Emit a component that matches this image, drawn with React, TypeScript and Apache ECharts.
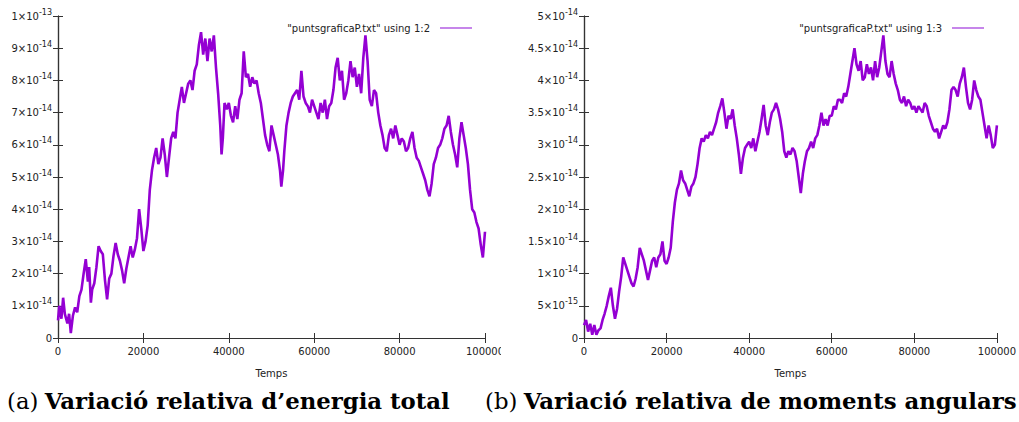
import React, { useEffect, useRef } from "react";
import * as echarts from "echarts";

// Panel (a): relative variation of total energy (values in units of 1e-14)
const TIME_A = [
  0, 300, 800, 1200, 1600, 2200, 2600, 3000, 3500, 4000, 4500, 5000, 5500, 6000, 6500, 7000, 7300, 7700,
  8000, 8500, 9000, 9500, 10000, 10500, 11000, 11500, 12000, 12500, 13000, 13500, 14000, 14500, 15000,
  15500, 16000, 16500, 17000, 17500, 18000, 18500, 19000, 19500, 20000, 20500, 21000, 21500, 22000,
  22500, 23000, 23500, 24000, 24500, 25000, 25500, 26000, 26500, 27000, 27500, 28000, 28500, 29000,
  29500, 30000, 30500, 31000, 31500, 32000, 32500, 33000, 33500, 34000, 34500, 35000, 35500, 36000,
  36500, 37000, 37500, 38000, 38300, 38600, 39000, 39500, 40000, 40500, 41000, 41500, 42000, 42500,
  43000, 43500, 44000, 44500, 45000, 45500, 46000, 46500, 47000, 47500, 48000, 48500, 49000, 49500,
  50000, 50500, 51000, 51500, 52000, 52300, 52700, 53000, 53500, 54000, 54500, 55000, 55500, 56000,
  56500, 57000, 57500, 58000, 58500, 59000, 59500, 60000, 60500, 61000, 61500, 62000, 62500, 63000,
  63500, 64000, 64500, 65000, 65500, 66000, 66500, 67000, 67500, 68000, 68500, 69000, 69500, 70000,
  70500, 71000, 71500, 72000, 72500, 73000, 73500, 74000, 74500, 75000, 75500, 76000, 76500, 77000,
  77500, 78000, 78500, 79000, 79500, 80000, 80500, 81000, 81500, 82000, 82500, 83000, 83500, 84000,
  84500, 85000, 85500, 86000, 86500, 87000, 87500, 88000, 88500, 89000, 89500, 90000, 90500, 91000,
  91500, 92000, 92500, 93000, 93500, 94000, 94500, 95000, 95500, 96000, 96500, 97000, 97500, 98000,
  98500, 99000, 99500, 100000,
];
const ENERGY_A = [
  0.55, 1.0, 0.6, 1.25, 0.75, 0.45, 0.75, 0.15, 0.7, 0.95, 0.8, 1.3, 1.5, 2.0, 2.45, 1.75, 2.2, 1.1,
  1.5, 1.7, 2.2, 2.85, 2.7, 2.6, 1.8, 1.2, 1.85, 2.0, 2.55, 2.95, 2.6, 2.4, 2.1,
  1.7, 2.15, 2.5, 2.85, 2.5, 2.75, 3.1, 4.0, 3.4, 2.7, 3.0, 3.5, 4.6, 5.2,
  5.6, 5.9, 5.4, 5.6, 6.2, 5.7, 5.0, 5.6, 6.2, 6.4, 6.2, 7.0, 7.4, 7.8,
  7.3, 7.6, 7.9, 8.0, 7.7, 8.3, 8.5, 9.1, 9.5, 8.8, 9.3, 8.6, 9.3, 8.9,
  9.4, 8.4, 7.6, 6.6, 5.7, 6.2, 7.3, 7.1, 7.3, 6.9, 6.7, 7.2, 6.8, 7.4,
  7.6, 8.9, 8.1, 8.2, 7.8, 8.1, 7.9, 8.0, 7.6, 7.3, 6.8, 6.3, 6.0, 5.8,
  6.6, 6.3, 6.0, 5.7, 5.2, 4.7, 5.2, 5.8, 6.6, 7.0, 7.3, 7.5, 7.6, 7.7,
  7.4, 8.3, 7.5, 7.3, 7.2, 7.0, 7.4, 7.2, 7.0, 6.8, 7.3, 7.0, 7.4, 6.8,
  7.2, 7.3, 7.7, 8.4, 8.7, 8.0, 8.3, 7.4, 7.6, 8.0, 8.6, 8.1, 8.4, 7.8,
  8.2, 7.6, 8.7, 9.4, 8.6, 7.4, 7.2, 7.7, 7.6, 7.0, 6.6, 6.3, 5.9, 5.8,
  6.3, 6.5, 6.2, 6.6, 6.3, 6.0, 6.2, 6.1, 5.8, 5.9, 6.2, 6.4, 5.9, 5.6,
  5.5, 5.3, 5.1, 4.9, 4.6, 4.4, 4.8, 5.4, 5.6, 5.9, 6.0, 6.2, 6.5, 6.6,
  6.9, 6.4, 6.0, 5.7, 5.3, 6.2, 6.7, 6.3, 5.9, 5.4, 4.6, 4.0, 3.9, 3.6,
  3.4, 2.9, 2.5, 3.3,
];

// Panel (b): relative variation of angular momenta (values in units of 1e-14)
const TIME_B = Array.from({ length: 201 }, (_, i) => i * 500);
const ANGULAR_B = [
  0.2, 0.28, 0.1, 0.22, 0.05, 0.2, 0.05, 0.12, 0.15, 0.28, 0.38, 0.5, 0.65, 0.78, 0.5, 0.3, 0.45, 0.72,
  0.95, 1.25, 1.15, 1.05, 0.95, 0.85, 0.8, 0.92, 1.1, 1.4, 1.3, 1.2, 1.05, 0.9, 1.05, 1.2, 1.25, 1.1,
  1.25, 1.3, 1.5, 1.2, 1.15, 1.25, 1.4, 1.8, 2.1, 2.3, 2.4, 2.6, 2.45, 2.4, 2.3, 2.2, 2.35, 2.4, 2.5,
  2.7, 2.95, 3.1, 3.05, 3.15, 3.1, 3.2, 3.15, 3.25, 3.35, 3.5, 3.6, 3.72, 3.5, 3.25, 3.45, 3.4, 3.55,
  3.3, 3.1, 2.85, 2.55, 2.8, 2.95, 3.0, 3.05, 2.95, 3.1, 2.9, 3.05, 3.2, 3.4, 3.62, 3.3, 3.15, 3.35,
  3.5, 3.55, 3.65, 3.55, 3.4, 3.2, 2.9, 2.8, 2.9, 2.85, 2.95, 2.9, 2.75, 2.5, 2.25, 2.55, 2.75, 2.9,
  2.95, 3.05, 2.95, 3.1, 3.15, 3.3, 3.5, 3.3, 3.4, 3.3, 3.45, 3.45, 3.6, 3.55, 3.7, 3.7, 3.65, 3.8,
  3.75, 3.9, 4.1, 4.3, 4.5, 4.25, 4.15, 4.3, 4.0, 4.05, 4.25, 4.1, 4.2, 4.0, 4.3, 4.05, 4.2, 4.45,
  4.7, 4.3, 4.1, 4.05, 4.3, 4.1, 3.95, 3.85, 3.7, 3.65, 3.75, 3.6, 3.7, 3.65, 3.55, 3.6, 3.5, 3.6,
  3.55, 3.5, 3.65, 3.6, 3.45, 3.35, 3.25, 3.2, 3.25, 3.1, 3.2, 3.3, 3.25, 3.35, 3.55, 3.85, 3.9, 3.85,
  3.75, 3.95, 4.05, 4.2, 3.9, 3.65, 3.55, 3.7, 4.0, 3.85, 3.75, 3.7, 3.5, 3.3, 3.1, 3.3, 3.15, 2.95,
  3.0, 3.3,
];

const NAME_A = '"puntsgraficaP.txt" using 1:2';
const NAME_B = '"puntsgraficaP.txt" using 1:3';
const CAPTION_A = ["(a)", "Variació relativa d’energia total"];
const CAPTION_B = ["(b)", "Variació relativa de moments angulars"];
const X_NAME = "Temps";

const LINE_COLOR = "#9400d3";
const AXIS_COLOR = "#333";
const TEXT_COLOR = "#222";
const SANS = "DejaVu Sans, Verdana, sans-serif";
const SERIF = "DejaVu Serif, serif";

const rich = {
  m: { fontSize: 10, lineHeight: 16, fontFamily: SANS, color: TEXT_COLOR },
  s: { fontSize: 8, lineHeight: 8, verticalAlign: "top", fontFamily: SANS, color: TEXT_COLOR },
};

const fmtNum = (v: number) => String(Math.round(v * 10) / 10);

const labelA = (v: number) => {
  if (v === 0) return "0";
  if (Math.abs(v - 10) < 1e-9) return "{m|1×10}{s|-13}";
  return `{m|${fmtNum(v)}×10}{s|-14}`;
};
const labelB = (v: number) => {
  if (v === 0) return "0";
  if (Math.abs(v - 0.5) < 1e-9) return "{m|5×10}{s|-15}";
  return `{m|${fmtNum(v)}×10}{s|-14}`;
};

function makeAxes(grid: number, yMax: number, yInt: number, fmt: (v: number) => string) {
  const line = { show: true, lineStyle: { color: AXIS_COLOR, width: 1.2 } };
  const tick = { show: true, inside: true, length: 5, lineStyle: { color: AXIS_COLOR, width: 1 } };
  const x = [
    {
      gridIndex: grid, type: "value", min: 0, max: 100000, interval: 20000, position: "bottom",
      axisLine: line, axisTick: tick, splitLine: { show: false },
      axisLabel: { fontSize: 10, fontFamily: SANS, color: TEXT_COLOR, margin: 8, formatter: (v: number) => String(v) },
      name: X_NAME, nameLocation: "middle", nameGap: 30,
      nameTextStyle: { fontSize: 10, fontFamily: SANS, color: TEXT_COLOR },
    },
    {
      gridIndex: grid, type: "value", min: 0, max: 100000, interval: 20000, position: "top",
      axisLine: line, axisTick: tick, splitLine: { show: false }, axisLabel: { show: false },
    },
  ];
  const y = [
    {
      gridIndex: grid, type: "value", min: 0, max: yMax, interval: yInt, position: "left",
      axisLine: line, axisTick: tick, splitLine: { show: false },
      axisLabel: { formatter: fmt, rich, fontSize: 10, fontFamily: SANS, color: TEXT_COLOR, margin: 6 },
    },
    {
      gridIndex: grid, type: "value", min: 0, max: yMax, interval: yInt, position: "right",
      axisLine: line, axisTick: tick, splitLine: { show: false }, axisLabel: { show: false },
    },
  ];
  return { x, y };
}

export default function App() {
  const ref = useRef<HTMLDivElement>(null);
  useEffect(() => {
    if (!ref.current) return;
    const chart = echarts.init(ref.current, undefined, { renderer: "svg" });
    const a = makeAxes(0, 10, 1, labelA);
    const b = makeAxes(1, 5, 0.5, labelB);
    const legendBase = {
      orient: "horizontal", align: "right", itemWidth: 32, itemHeight: 1.5, icon: "rect",
      padding: 0, top: 23,
      itemStyle: { color: "#b35ee3" },
      textStyle: { fontSize: 10, fontFamily: SANS, color: TEXT_COLOR, padding: [0, 5, 0, 0] },
    };
    const capRich = {
      r: { fontSize: 22.8, fontFamily: SERIF, fontWeight: "normal", fill: "#000" },
      b: { fontSize: 22.8, fontFamily: SERIF, fontWeight: "bold", fill: "#000", padding: [0, 0, 0, 3] },
    };
    chart.setOption({
      animation: false,
      backgroundColor: "#fff",
      grid: [
        { left: 58, top: 16, width: 427, height: 322 },
        { left: 584, top: 16, width: 413, height: 322 },
      ],
      xAxis: [...a.x, ...b.x],
      yAxis: [...a.y, ...b.y],
      legend: [
        { ...legendBase, data: [NAME_A], right: 547 },
        { ...legendBase, data: [NAME_B], right: 35 },
      ],
      series: [
        {
          name: NAME_A, type: "line", xAxisIndex: 0, yAxisIndex: 0, symbol: "none", showSymbol: false,
          lineStyle: { color: LINE_COLOR, width: 2.6 }, itemStyle: { color: LINE_COLOR },
          data: TIME_A.map((t, i) => [t, ENERGY_A[i]]),
        },
        {
          name: NAME_B, type: "line", xAxisIndex: 2, yAxisIndex: 2, symbol: "none", showSymbol: false,
          lineStyle: { color: LINE_COLOR, width: 2.6 }, itemStyle: { color: LINE_COLOR },
          data: TIME_B.map((t, i) => [t, ANGULAR_B[i]]),
        },
      ],
      graphic: [
        { type: "rect", z: 100, shape: { x: 501, y: 342, width: 10, height: 20 }, style: { fill: "#fff" } },
        {
          type: "text", x: 7, y: 401, z: 100,
          style: { text: `{r|${CAPTION_A[0]}} {b|${CAPTION_A[1]}}`, rich: capRich, verticalAlign: "middle", fill: "#000" },
        },
        {
          type: "text", x: 485, y: 401, z: 100,
          style: { text: `{r|${CAPTION_B[0]}} {b|${CAPTION_B[1]}}`, rich: capRich, verticalAlign: "middle", fill: "#000" },
        },
      ],
    });
    return () => chart.dispose();
  }, []);
  return (
    <div
      ref={ref}
      style={{ position: "fixed", left: 0, top: 0, width: 1019, height: 422, background: "#fff" }}
    />
  );
}
